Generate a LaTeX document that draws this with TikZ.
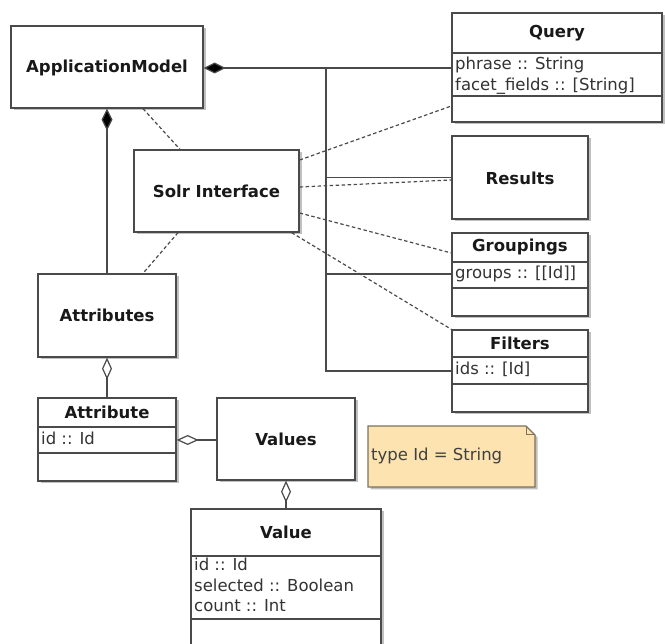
\documentclass[tikz,border=0pt]{standalone}
\usepackage{fontspec}
\setmainfont{DejaVu Sans}
\usetikzlibrary{arrows.meta,shadows}
\definecolor{edge}{HTML}{4A4A4A}
\definecolor{notefill}{HTML}{FCE3B0}
\definecolor{noteedge}{HTML}{7E7260}

\begin{document}
\begin{tikzpicture}[x=1pt,y=-1pt,
  shade/.style={drop shadow={shadow xshift=2.5pt,shadow yshift=-2.5pt,fill=black!45,opacity=.55}},
  cls/.style={draw=edge,line width=1.3pt,fill=white,inner sep=0pt,shade},
  sep/.style={draw=edge,line width=1.2pt},
  cname/.style={inner sep=0pt,font=\bfseries\fontsize{16.5}{19}\selectfont,text=black!90},
  attr/.style={inner sep=0pt,anchor=north west,align=left,font=\fontsize{16.5}{20.5}\selectfont,text=black!80},
  link/.style={draw=edge,line width=1.2pt},
  dep/.style={draw=edge,line width=1.2pt,dash pattern=on 3.5pt off 2.5pt},
  comp/.style={link,-{Diamond[length=22pt,width=11pt,fill=black]}},
  aggr/.style={link,-{Diamond[open,length=22pt,width=10pt,fill=white]}}
]
\useasboundingbox (0,0) rectangle (665,644);

% ---- class boxes ----
\node[cls,minimum width=192pt,minimum height=82pt]  (appmodel)   at (107,67)    {};
\node[cls,minimum width=210pt,minimum height=109pt] (query)      at (557,67.5)  {};
\node[cls,minimum width=136pt,minimum height=83pt]  (results)    at (520,177.5) {};
\node[cls,minimum width=136pt,minimum height=83pt]  (groupings)  at (520,274.5) {};
\node[cls,minimum width=136pt,minimum height=82pt]  (filters)    at (520,371)   {};
\node[cls,minimum width=165pt,minimum height=82pt]  (solr)       at (216.5,191) {};
\node[cls,minimum width=138pt,minimum height=83pt]  (attributes) at (107,315.5) {};
\node[cls,minimum width=138pt,minimum height=83pt]  (attribute)  at (107,439.5) {};
\node[cls,minimum width=138pt,minimum height=82pt]  (values)     at (286,439)   {};
\node[cls,minimum width=190pt,minimum height=139pt] (value)      at (286,578.5) {};

% ---- compartment separators ----
\draw[sep] (query.west |- 0,53) -- (query.east |- 0,53);
\draw[sep] (query.west |- 0,96) -- (query.east |- 0,96);
\draw[sep] (groupings.west |- 0,262) -- (groupings.east |- 0,262);
\draw[sep] (groupings.west |- 0,288) -- (groupings.east |- 0,288);
\draw[sep] (filters.west |- 0,357) -- (filters.east |- 0,357);
\draw[sep] (filters.west |- 0,384) -- (filters.east |- 0,384);
\draw[sep] (attribute.west |- 0,427) -- (attribute.east |- 0,427);
\draw[sep] (attribute.west |- 0,453) -- (attribute.east |- 0,453);
\draw[sep] (value.west |- 0,556) -- (value.east |- 0,556);
\draw[sep] (value.west |- 0,619) -- (value.east |- 0,619);

% ---- class names ----
\node[cname] (appmodelname)   at (107,68)    {ApplicationModel};
\node[cname] (queryname)      at (557,33)    {Query};
\node[cname] (resultsname)    at (520,178)   {Results};
\node[cname] (groupingsname)  at (520,247.5) {Groupings};
\node[cname] (filtersname)    at (520,343.5) {Filters};
\node[cname] (solrname)       at (216.5,191) {Solr Interface};
\node[cname] (attributesname) at (107,315.5) {Attributes};
\node[cname] (attributename)  at (107,412.5) {Attribute};
\node[cname] (valuesname)     at (286,439)   {Values};
\node[cname] (valuename)      at (286,532)   {Value};

% ---- attributes ----
\node[attr] (queryattr)     at (455,57)  {phrase :: String\\facet\_fields :: [String]};
\node[attr] (groupingsattr) at (455,266) {groups :: [[Id]]};
\node[attr] (filtersattr)   at (455,362) {ids :: [Id]};
\node[attr] (attributeattr) at (41,432)  {id :: Id};
\node[attr] (valueattr)     at (194,558) {id :: Id\\selected :: Boolean\\count :: Int};

% ---- note ----
\filldraw[fill=notefill,draw=noteedge,line width=1.1pt,shade]
  (368,426) -- (526,426) -- (535,435) -- (535,487) -- (368,487) -- cycle;
\draw[draw=noteedge,line width=1pt] (526,426) -- (526,435) -- (535,435);
\node[attr,anchor=west,text=black!75] (note) at (371,456) {type Id = String};

% ---- associations to the search types ----
\coordinate (bus) at (326,68);
\coordinate (busend) at (326,371);
\draw[comp] (query.west |- bus) -- (appmodel.east |- bus);
\draw[link] (bus) -- (busend) -- (filters.west |- busend);
\draw[link] (bus |- results) -- (results.west);
\draw[link] (bus |- 0,274) -- (groupings.west |- 0,274);

% ---- composition and aggregations ----
\draw[comp] (attributes.north) -- (appmodel.south);
\draw[aggr] (attribute.north) -- (attributes.south);
\draw[aggr] (values.west |- 0,440) -- (attribute.east |- 0,440);
\draw[aggr] (value.north) -- (values.south);

% ---- dependencies of the Solr interface ----
\draw[dep] (appmodel.south -| 143,0) -- (solr.north -| 180,0);
\draw[dep] (solr.south -| 178,0) -- (attributes.north -| 143,0);
\draw[dep] (solr.east |- 0,160) -- (query.west |- 0,106);
\draw[dep] (solr.east |- 0,187) -- (results.west |- 0,180);
\draw[dep] (solr.east |- 0,213) -- (groupings.west |- 0,253);
\draw[dep] (solr.south east) ++(-8pt,0) -- (filters.north west);
\end{tikzpicture}
\end{document}
